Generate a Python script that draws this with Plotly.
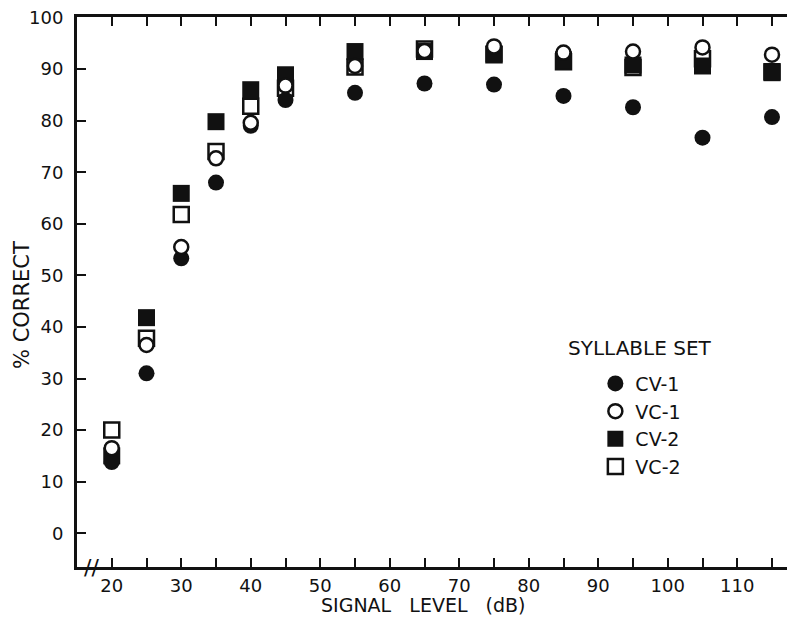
import plotly.graph_objects as go

# ---- data ----
signal_db = [20, 25, 30, 35, 40, 45, 55, 65, 75, 85, 95, 105, 115]
cv1 = [13.8, 31.0, 53.3, 68.0, 79.0, 84.0, 85.4, 87.2, 87.0, 84.8, 82.6, 76.7, 80.7]
vc1 = [16.5, 36.5, 55.5, 72.7, 79.6, 86.8, 90.6, 93.5, 94.4, 93.2, 93.4, 94.2, 92.8]
cv2 = [15.0, 41.8, 65.9, 79.8, 86.0, 88.9, 93.4, 93.4, 93.0, 91.8, 90.8, 90.6, 89.3]
vc2 = [20.0, 37.8, 61.8, 74.0, 82.8, 86.3, 90.4, 93.9, 92.8, 91.4, 90.3, 92.0, 89.5]

x_tickvals = [20, 25, 30, 35, 40, 45, 50, 55, 60, 65, 70, 75, 80, 85, 90, 95, 100, 105, 110, 115]
x_ticktext = ["20", "", "30", "", "40", "", "50", "", "60", "", "70", "", "80", "", "90", "", "100", "", "110", ""]
y_tickvals = [0, 10, 20, 30, 40, 50, 60, 70, 80, 90, 100]

FONT = "DejaVu Sans"
BLACK = "#111111"
NB = "\u00a0"

fig = go.Figure()

# draw order (squares below, circles above); legend order via legendrank
fig.add_trace(go.Scatter(
    x=signal_db, y=vc2, mode="markers", name="VC-2", legendrank=4, legendgroup="d",
    marker=dict(symbol="square-open", size=15, color=BLACK, line=dict(width=2.5, color=BLACK)),
))
fig.add_trace(go.Scatter(
    x=signal_db, y=cv2, mode="markers", name="CV-2", legendrank=3, legendgroup="c",
    marker=dict(symbol="square", size=17, color=BLACK, line=dict(width=0)),
))
fig.add_trace(go.Scatter(
    x=signal_db, y=cv1, mode="markers", name="CV-1", legendrank=1, legendgroup="a",
    marker=dict(symbol="circle", size=16, color=BLACK, line=dict(width=0)),
))
fig.add_trace(go.Scatter(
    x=signal_db, y=vc1, mode="markers", name="VC-1", legendrank=2, legendgroup="b",
    marker=dict(symbol="circle", size=14, color="white", line=dict(width=2.5, color=BLACK)),
))

fig.update_layout(
    width=795, height=629,
    margin=dict(l=69, r=0, t=9, b=70),
    paper_bgcolor="white", plot_bgcolor="white",
    font=dict(family=FONT, size=18, color=BLACK),
    showlegend=True,
    legend=dict(
        x=0.714, y=0.368, xanchor="left", yanchor="top",
        bgcolor="rgba(0,0,0,0)",
        font=dict(family=FONT, size=19, color=BLACK),
        traceorder="grouped", tracegroupgap=0,
        itemclick=False,
    ),
    xaxis=dict(
        range=[15, 119.46], showgrid=False, zeroline=False,
        showline=True, linewidth=3, linecolor=BLACK, mirror="ticks",
        ticks="inside", ticklen=9, tickwidth=2, tickcolor=BLACK,
        tickvals=x_tickvals, ticktext=x_ticktext,
        tickfont=dict(family=FONT, size=18, color=BLACK),
        ticklabelstandoff=0, ticklabeloverflow="allow",
    ),
    yaxis=dict(
        range=[-6.55, 100.1], showgrid=False, zeroline=False,
        showline=True, linewidth=3, linecolor=BLACK, mirror=False,
        ticks="inside", ticklen=9, tickwidth=2, tickcolor=BLACK,
        tickvals=y_tickvals,
        tickfont=dict(family=FONT, size=18, color=BLACK),
        ticklabelstandoff=7, ticklabeloverflow="allow",
    ),
    annotations=[
        dict(text="SYLLABLE" + NB + "SET", xref="paper", yref="paper", x=0.7755, y=0.3982,
             xanchor="center", yanchor="middle", showarrow=False,
             font=dict(family=FONT, size=20, color=BLACK)),
        dict(text="SIGNAL" + NB * 3 + "LEVEL" + NB * 3 + "(dB)", xref="paper", yref="paper",
             x=0.4766, y=-0.0695,
             xanchor="center", yanchor="middle", showarrow=False,
             font=dict(family=FONT, size=19, color=BLACK)),
        dict(text="%" + NB + "CORRECT", xref="paper", yref="paper", x=-0.0758, y=0.4764,
             xanchor="center", yanchor="middle", textangle=-90, showarrow=False,
             font=dict(family=FONT, size=21, color=BLACK)),
        dict(text="//", xref="paper", yref="paper", x=0.0193, y=0.0,
             xanchor="center", yanchor="middle", showarrow=False,
             font=dict(family=FONT, size=22, color=BLACK)),
    ],
)

fig.write_html("out.html")
